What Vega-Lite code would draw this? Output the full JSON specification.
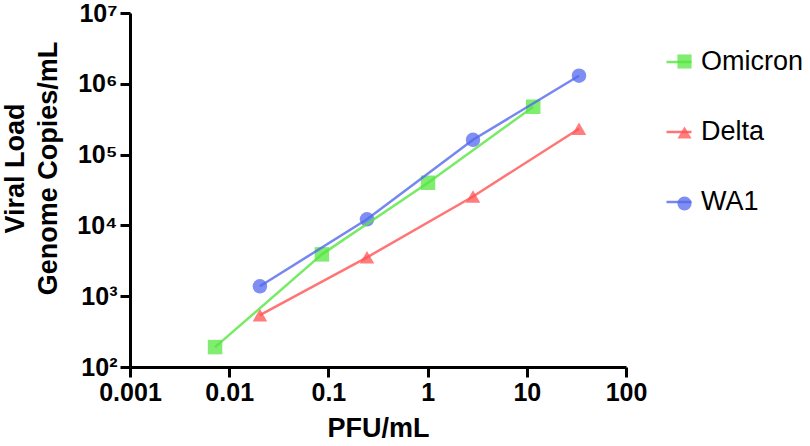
{
  "$schema": "https://vega.github.io/schema/vega-lite/v6.json",
  "width": 496,
  "height": 354,
  "autosize": {"type": "none"},
  "padding": {"left": 130, "top": 13, "right": 184, "bottom": 79},
  "background": "white",
  "config": {
    "view": {"stroke": null},
    "font": "Liberation Sans"
  },
  "data": {
    "values": [
      {"strain": "Omicron", "pfu": 0.0072, "copies": 191},
      {"strain": "Omicron", "pfu": 0.086, "copies": 3900},
      {"strain": "Omicron", "pfu": 1.01, "copies": 40000},
      {"strain": "Omicron", "pfu": 11.6, "copies": 474000},
      {"strain": "Delta", "pfu": 0.0204, "copies": 540},
      {"strain": "Delta", "pfu": 0.245, "copies": 3540},
      {"strain": "Delta", "pfu": 2.87, "copies": 25600},
      {"strain": "Delta", "pfu": 33.6, "copies": 232000},
      {"strain": "WA1", "pfu": 0.0204, "copies": 1380},
      {"strain": "WA1", "pfu": 0.245, "copies": 12200},
      {"strain": "WA1", "pfu": 2.87, "copies": 162000},
      {"strain": "WA1", "pfu": 33.6, "copies": 1300000}
    ]
  },
  "encoding": {
    "x": {
      "field": "pfu", "type": "quantitative",
      "scale": {"type": "log", "domain": [0.001, 100], "nice": false},
      "axis": {
        "title": "PFU/mL", "values": [0.001, 0.01, 0.1, 1, 10, 100], "format": "~r",
        "grid": false, "domainColor": "black", "domainWidth": 3, "tickColor": "black", "tickWidth": 3, "tickSize": 10,
        "labelFont": "Liberation Sans", "labelFontSize": 25, "labelFontWeight": "bold", "labelColor": "black", "labelPadding": 3,
        "labelFlush": false, "labelOverlap": false,
        "titleFont": "Liberation Sans", "titleFontSize": 27, "titleFontWeight": "bold", "titleColor": "black", "titlePadding": 10
      }
    },
    "y": {
      "field": "copies", "type": "quantitative",
      "scale": {"type": "log", "domain": [100, 10000000], "nice": false},
      "axis": {
        "title": ["Viral Load", "Genome Copies/mL"], "values": [100, 1000, 10000, 100000, 1000000, 10000000],
        "labelExpr": "'10' + ['⁰','¹','²','³','⁴','⁵','⁶','⁷'][round(log(datum.value)/LN10)]",
        "grid": false, "domainColor": "black", "domainWidth": 3, "tickColor": "black", "tickWidth": 3, "tickSize": 10,
        "labelFont": "Liberation Sans", "labelFontSize": 25, "labelFontWeight": "bold", "labelColor": "black", "labelPadding": 3,
        "labelFlush": false, "labelOverlap": false,
        "titleFont": "Liberation Sans", "titleFontSize": 27, "titleFontWeight": "bold", "titleColor": "black",
        "titleAngle": 270, "titleAlign": "center", "titleBaseline": "top", "titleX": -128, "titleY": 155, "titleLineHeight": 33
      }
    }
  },
  "layer": [
    {
      "mark": {"type": "point", "filled": true, "opacity": 0.75, "size": 210},
      "encoding": {
        "fill": {
          "field": "strain", "type": "nominal",
          "scale": {"domain": ["Omicron", "Delta", "WA1"], "range": ["#55e640", "#ff5252", "#5468ee"]},
          "legend": {
            "title": null, "orient": "right", "offset": 10, "padding": 35,
            "symbolSize": 200, "rowPadding": 43, "labelOffset": 21, "symbolOpacity": 0.75, "symbolStrokeWidth": 0,
            "labelFont": "Liberation Sans", "labelFontSize": 27, "labelColor": "transparent", "labelExpr": "''"
          }
        },
        "shape": {
          "field": "strain", "type": "nominal",
          "scale": {"domain": ["Omicron", "Delta", "WA1"], "range": ["square", "triangle-up", "circle"]},
          "legend": {
            "title": null, "orient": "right", "offset": 10, "padding": 35,
            "symbolSize": 200, "rowPadding": 43, "labelOffset": 21, "symbolOpacity": 0.75, "symbolStrokeWidth": 0,
            "labelFont": "Liberation Sans", "labelFontSize": 27, "labelColor": "transparent", "labelExpr": "''"
          }
        }
      }
    },
    {
      "mark": {"type": "line", "strokeWidth": 2.5, "opacity": 0.8},
      "encoding": {
        "color": {
          "field": "strain", "type": "nominal",
          "scale": {"domain": ["Omicron", "Delta", "WA1"], "range": ["#55e640", "#ff5252", "#5468ee"]},
          "legend": {
            "title": null, "orient": "none", "legendX": 535, "legendY": 35, "padding": 0,
            "symbolType": "stroke", "symbolSize": 625, "symbolStrokeWidth": 2.5, "symbolOpacity": 0.8,
            "rowPadding": 43, "labelOffset": 8,
            "labelFont": "Liberation Sans", "labelFontSize": 27, "labelColor": "black"
          }
        }
      }
    }
  ]
}
